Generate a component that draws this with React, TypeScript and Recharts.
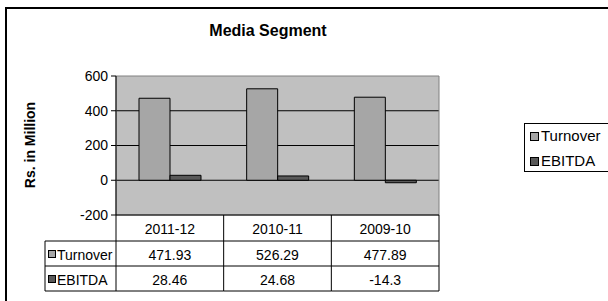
import React from 'react';
import { BarChart, Bar, XAxis, YAxis, CartesianGrid, ReferenceArea } from 'recharts';

const categories = ['2011-12', '2010-11', '2009-10'];
const turnover = [471.93, 526.29, 477.89];
const ebitda = [28.46, 24.68, -14.3];
const turnoverLabels = ['471.93', '526.29', '477.89'];
const ebitdaLabels = ['28.46', '24.68', '-14.3'];
const yTicks = [-200, 0, 200, 400, 600];
const gridValues = [0, 200, 400];
const seriesNames = ['Turnover', 'EBITDA'];
const seriesColors = ['#A6A6A6', '#595959'];

const data = categories.map((c, i) => ({ cat: c, Turnover: turnover[i], EBITDA: ebitda[i] }));
const rowValues = [turnoverLabels, ebitdaLabels];

const W = 608;
const H = 301;
const PLOT_LEFT = 116;
const PLOT_RIGHT = 439;
const PLOT_TOP = 76;
const PLOT_BOTTOM = 215;
const COL_W = (PLOT_RIGHT - PLOT_LEFT) / categories.length;
const TABLE_LEFT = 45;
const ROW_TOPS = [215, 241, 266, 291];
const FONT = '"Liberation Sans", Arial, sans-serif';
const FS = 14;

const TableTick = (props: any) => {
  const { x, payload, index } = props;
  const left = x - COL_W / 2;
  const right = x + COL_W / 2;
  const els: any[] = [];
  els.push(
    <text key="h" x={x} y={(ROW_TOPS[0] + ROW_TOPS[1]) / 2 + 1} textAnchor="middle" dominantBaseline="central"
      fontSize={FS} fontFamily={FONT} fill="#000">{payload.value}</text>
  );
  rowValues.forEach((vals, r) => {
    els.push(
      <text key={'v' + r} x={x} y={(ROW_TOPS[r + 1] + ROW_TOPS[r + 2]) / 2 + 1} textAnchor="middle" dominantBaseline="central"
        fontSize={FS} fontFamily={FONT} fill="#000">{vals[index]}</text>
    );
  });
  els.push(<line key="lr" x1={right} x2={right} y1={ROW_TOPS[0]} y2={ROW_TOPS[3]} stroke="#000" strokeWidth={1} />);
  els.push(<line key="r1" x1={left} x2={right} y1={ROW_TOPS[1]} y2={ROW_TOPS[1]} stroke="#000" strokeWidth={1} />);
  els.push(<line key="r2" x1={left} x2={right} y1={ROW_TOPS[2]} y2={ROW_TOPS[2]} stroke="#000" strokeWidth={1} />);
  els.push(<line key="r3" x1={left} x2={right} y1={ROW_TOPS[3]} y2={ROW_TOPS[3]} stroke="#000" strokeWidth={1} />);
  if (index === 0) {
    els.push(<line key="ll" x1={left} x2={left} y1={ROW_TOPS[0]} y2={ROW_TOPS[3]} stroke="#000" strokeWidth={1} />);
    els.push(<line key="tl" x1={TABLE_LEFT} x2={TABLE_LEFT} y1={ROW_TOPS[1]} y2={ROW_TOPS[3]} stroke="#000" strokeWidth={1} />);
    [1, 2, 3].forEach((r) => {
      els.push(<line key={'hl' + r} x1={TABLE_LEFT} x2={left} y1={ROW_TOPS[r]} y2={ROW_TOPS[r]} stroke="#000" strokeWidth={1} />);
    });
    seriesNames.forEach((n, r) => {
      const cy = (ROW_TOPS[r + 1] + ROW_TOPS[r + 2]) / 2;
      els.push(<rect key={'sq' + r} x={TABLE_LEFT + 3.5} y={cy - 3} width={7} height={7} fill={seriesColors[r]} stroke="#000" strokeWidth={1} />);
      els.push(
        <text key={'n' + r} x={TABLE_LEFT + 12} y={cy + 1} dominantBaseline="central" fontSize={FS} fontFamily={FONT} fill="#000">{n}</text>
      );
    });
  }
  return <g>{els}</g>;
};

export default function App() {
  return (
    <div style={{ position: 'absolute', left: 0, top: 0, width: W, height: H, overflow: 'hidden', background: '#fff', fontFamily: FONT }}>
      <div style={{ position: 'absolute', left: 5, top: 7, width: 800, height: 500, borderLeft: '2px solid #000', borderTop: '2px solid #000', boxSizing: 'border-box' }} />
      <div style={{ position: 'absolute', left: 0, top: 0 }}>
        <BarChart width={W} height={H} data={data}
          margin={{ top: PLOT_TOP, right: W - PLOT_RIGHT, bottom: 0, left: 0 }}
          barGap={0} barSize={31}>
          <CartesianGrid vertical={false} horizontalValues={gridValues} stroke="#000" strokeWidth={1} fill="#C0C0C0" fillOpacity={1} />
          <XAxis dataKey="cat" height={H - PLOT_BOTTOM} axisLine={{ stroke: '#000' }} tickLine={false} tick={<TableTick />} interval={0} />
          <YAxis width={PLOT_LEFT} domain={[-200, 600]} ticks={yTicks} interval={0} tickSize={5} tickMargin={3}
            axisLine={{ stroke: '#000' }} tickLine={{ stroke: '#000' }}
            tick={{ fontSize: FS, fill: '#000', fontFamily: FONT }} />
          <ReferenceArea y1={-200} y2={600} fill="none" stroke="#808080" strokeWidth={1} ifOverflow="visible" />
          {seriesNames.map((n, i) => (
            <Bar key={n} dataKey={n} fill={seriesColors[i]} stroke="#000" strokeWidth={1} isAnimationActive={false} />
          ))}
        </BarChart>
      </div>
      <div style={{ position: 'absolute', left: 0, width: 536, top: 22, textAlign: 'center', fontSize: 16, fontWeight: 'bold', color: '#000' }}>Media Segment</div>
      <div style={{ position: 'absolute', left: 30, top: 145, transform: 'translate(-50%, -50%) rotate(-90deg)', fontSize: 14, fontWeight: 'bold', whiteSpace: 'nowrap', color: '#000' }}>Rs. in Million</div>
      <div style={{ position: 'absolute', left: 524, top: 123, width: 120, height: 49, border: '1px solid #000', boxSizing: 'border-box', background: '#fff' }}>
        {seriesNames.map((n, i) => (
          <div key={n} style={{ position: 'absolute', left: 5, top: 3 + i * 25, display: 'flex', alignItems: 'center', fontSize: 15, lineHeight: '18px', color: '#000', whiteSpace: 'nowrap' }}>
            <span style={{ display: 'inline-block', width: 7, height: 7, background: seriesColors[i], border: '1px solid #000', marginRight: 2 }} />
            {n}
          </div>
        ))}
      </div>
    </div>
  );
}
